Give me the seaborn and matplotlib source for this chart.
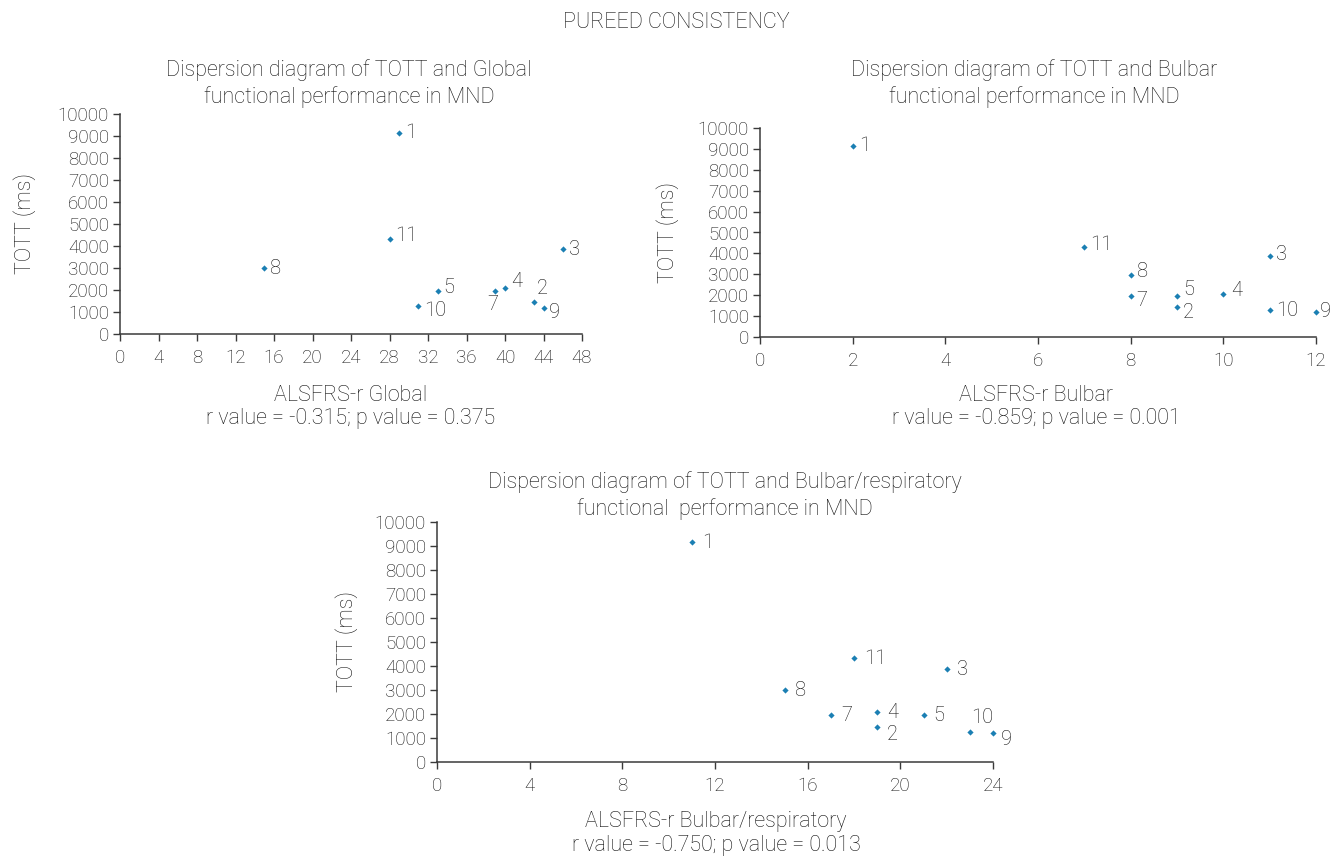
import matplotlib
matplotlib.use("Agg")
import matplotlib.pyplot as plt
import numpy as np
import pandas as pd
import seaborn as sns

# patient ids and measurements (pureed consistency)
patients = ["1", "2", "3", "4", "5", "7", "8", "9", "10", "11"]
tott_ms = [9150, 1440, 3860, 2080, 1950, 1950, 2980, 1200, 1270, 4330]
alsfrs_global = [29, 43, 46, 40, 33, 39, 15, 44, 31, 28]
alsfrs_bulbar = [2, 9, 11, 10, 9, 8, 8, 12, 11, 7]
alsfrs_bulbar_resp = [11, 19, 22, 19, 21, 17, 15, 24, 23, 18]

df = pd.DataFrame({"patient": patients, "tott": tott_ms,
                   "global": alsfrs_global, "bulbar": alsfrs_bulbar,
                   "bulbar_resp": alsfrs_bulbar_resp})

sns.set_style("ticks")
plt.rcParams["font.family"] = ["Roboto", "DejaVu Sans"]
plt.rcParams["font.weight"] = "light"
plt.rcParams["axes.labelweight"] = "light"

W, H = 1332, 857
fig = plt.figure(figsize=(W / 100, H / 100), dpi=100)

txt = "#111111"
dot = "#1b7fb3"
fs = 15.5


def px(x, y):
    return x / W, 1 - y / H


# label offsets in pixels (dx, dy, ha) where default is right of the point
panels = [
    dict(col="global", box=(120, 114, 582, 334), xmax=48, xstep=4,
         title="Dispersion diagram of TOTT and Global\nfunctional performance in MND",
         tpos=(349, 84), xl="ALSFRS-r Global", xlpos=(351, 396),
         rv="r value = -0.315; p value = 0.375", ylx=25,
         off={"7": (-3, -13, "center"), "2": (8, 14, "center"), "9": (6, -5, "left"),
              "10": (6, -4, "left"), "4": (6, 7, "left"), "5": (6, 4, "left"),
              "11": (6, 3, "left")}, dx=6),
    dict(col="bulbar", box=(760, 128, 1316, 337), xmax=12, xstep=2,
         title="Dispersion diagram of TOTT and Bulbar\nfunctional performance in MND",
         tpos=(1034, 84), xl="ALSFRS-r Bulbar", xlpos=(1036, 396),
         rv="r value = -0.859; p value = 0.001", ylx=668,
         off={"11": (6, 2, "left"), "8": (6, 3, "left"), "7": (6, -4, "left"),
              "5": (6, 7, "left"), "2": (6, -6, "left"), "4": (8, 3, "left"),
              "3": (6, 2, "left"), "9": (4, 0, "left")}, dx=6),
    dict(col="bulbar_resp", box=(437, 522, 993, 762), xmax=24, xstep=4,
         title="Dispersion diagram of TOTT and Bulbar/respiratory\nfunctional  performance in MND",
         tpos=(725, 496), xl="ALSFRS-r Bulbar/respiratory", xlpos=(716, 822),
         rv="r value = -0.750; p value = 0.013", ylx=347,
         off={"10": (12, 14, "center"), "9": (8, -6, "left"), "2": (10, -7, "left")},
         dx=10),
]

for p in panels:
    x0, y0, x1, y1 = p["box"]
    ax = fig.add_axes([x0 / W, 1 - y1 / H, (x1 - x0) / W, (y1 - y0) / H])
    sns.scatterplot(data=df, x=p["col"], y="tott", ax=ax, marker="D", s=10,
                    color=dot, linewidth=0, clip_on=False, zorder=3)
    for _, r in df.iterrows():
        dx, dy, ha = p["off"].get(r["patient"], (p["dx"], 0, "left"))
        ax.annotate(r["patient"], (r[p["col"]], r["tott"]), xytext=(dx, dy),
                    textcoords="offset pixels", ha=ha, va="center",
                    fontsize=14.5, color=txt, annotation_clip=False)
    ax.set_xlim(0, p["xmax"])
    ax.set_ylim(0, 10000)
    ax.set_xticks(np.arange(0, p["xmax"] + 1, p["xstep"]))
    ax.set_yticks(np.arange(0, 10001, 1000))
    ax.set_xlabel("")
    ax.set_ylabel("")
    sns.despine(ax=ax)
    for s in ["left", "bottom"]:
        ax.spines[s].set_color("#3a3a3a")
        ax.spines[s].set_linewidth(1.1)
    ax.tick_params(colors="#3a3a3a", labelcolor=txt, labelsize=13.5, length=5, width=1)
    ax.tick_params(axis="x", pad=6)
    ax.tick_params(axis="y", pad=3)

    fig.text(*px(*p["tpos"]), p["title"], ha="center", va="center",
             fontsize=fs, color=txt, linespacing=1.3)
    fig.text(*px(*p["xlpos"]), p["xl"], ha="center", va="center",
             fontsize=fs, color=txt)
    fig.text(*px(p["xlpos"][0], p["xlpos"][1] + 23), p["rv"], ha="center",
             va="center", fontsize=fs, color=txt)
    fig.text(*px(p["ylx"], (y0 + y1) / 2), "TOTT (ms)", rotation=90,
             ha="center", va="center", fontsize=fs, color=txt)

fig.text(*px(676, 22), "PUREED CONSISTENCY", ha="center", va="center",
         fontsize=fs, color=txt)

fig.savefig("out.png", dpi=100, facecolor="white")
